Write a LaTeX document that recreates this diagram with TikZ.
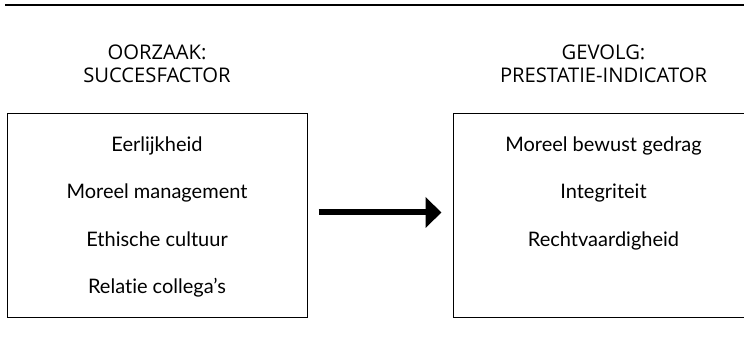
\documentclass[tikz,border=0pt]{standalone}
\usepackage{fontspec}
\setmainfont{Lato}[Ligatures=NoCommon]
\newfontfamily\kopfont{Open Sans}
\usetikzlibrary{arrows.meta}
\begin{document}
\begin{tikzpicture}[x=1pt,y=1pt,
		kader/.style={draw,line width=1pt,minimum height=204pt,inner sep=0pt},
		kop/.style={align=center,font=\kopfont\fontsize{20.2}{23.5}\selectfont},
		regel/.style={anchor=base,font=\fontsize{20}{24}\selectfont},
		pijl/.style={line width=6pt,-{Triangle[length=16pt,width=30pt]}}]
		\clip (0,0) rectangle (744,352);
		\draw[line width=1.3pt] (5,347)--(744,347);
		% koppen
		\node[kop] (kopoorzaak) at (157,288) {OORZAAK:\\SUCCESFACTOR};
		\node[kop] (kopgevolg) at (603.5,288) {GEVOLG:\\PRESTATIE-INDICATOR};
		% kaders
		\node[kader,minimum width=300pt] (oorzaak) at (157,136) {};
		\node[kader,minimum width=301pt] (gevolg) at (603.5,136) {};
		\node[regel] (eerlijk) at (157,200.5) {Eerlijkheid};
		\node[regel] (management) at (157,153) {Moreel management};
		\node[regel] (cultuur) at (157,105.5) {Ethische cultuur};
		\node[regel] (collega) at (157,58) {Relatie collega’s};
		\node[regel] (gedrag) at (603.5,200.5) {Moreel bewust gedrag};
		\node[regel] (integer) at (603.5,153) {Integriteit};
		\node[regel] (recht) at (603.5,105.5) {Rechtvaardigheid};
		% pijl
		\draw[pijl,shorten <=11pt,shorten >=11pt] ([yshift=3.5pt]oorzaak.east)--([yshift=3.5pt]gevolg.west);
	\end{tikzpicture}
\end{document}
